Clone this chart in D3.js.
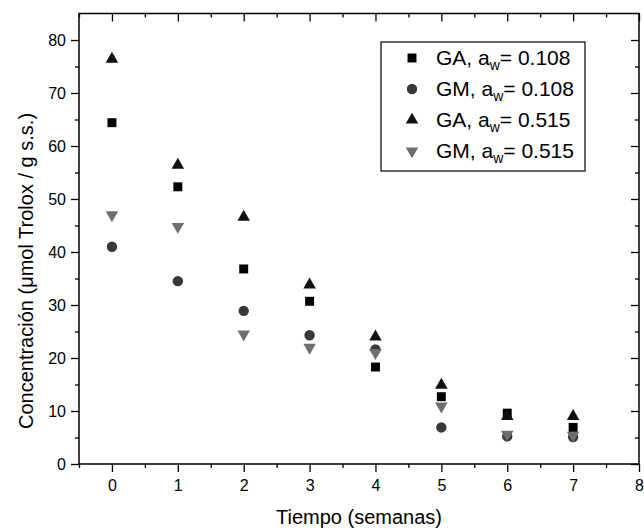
<!DOCTYPE html>
<meta charset="utf-8">
<script src="https://d3js.org/d3.v7.min.js"></script>
<style>
body { margin: 0; background: #fff; }
svg { font-family: "Liberation Sans", Arial, sans-serif; }
</style>
<div id="chart"></div>
<script>
// weeks
var semanas = [0, 1, 2, 3, 4, 5, 6, 7];
// series values (umol Trolox / g s.s.)
var gaLow = [64.4, 52.3, 36.8, 30.7, 18.3, 12.7, 9.6, 6.9];
var gmLow = [41.0, 34.5, 28.9, 24.3, 21.6, 6.9, 5.2, 5.1];
var gaHigh = [76.4, 56.4, 46.6, 33.8, 24.0, 14.9, 9.0, 9.0];
var gmHigh = [47.0, 44.8, 24.5, 22.0, 21.0, 10.9, 5.6, 5.4];
var seriesNames = ["GA", "GM", "GA", "GM"];
var seriesAw = ["0.108", "0.108", "0.515", "0.515"];
var xTicks = [0, 1, 2, 3, 4, 5, 6, 7, 8];
var yTicks = [0, 10, 20, 30, 40, 50, 60, 70, 80];

var W = 644, H = 531;
var pLeft = 79, pRight = 639, pTop = 13.5, pBottom = 464;

var svg = d3.select("#chart").append("svg")
  .attr("width", W).attr("height", H);

var x = d3.scaleLinear().domain([-0.5, 8]).range([pLeft, pRight]);
var y = d3.scaleLinear().domain([0, 85]).range([pBottom, pTop]);

var xMinor = [-0.5, 0.5, 1.5, 2.5, 3.5, 4.5, 5.5, 6.5, 7.5];
var yMinor = [5, 15, 25, 35, 45, 55, 65, 75];

// bottom axis (outward ticks)
svg.append("g").attr("transform", "translate(0," + pBottom + ")")
  .call(d3.axisBottom(x).tickValues(xTicks).tickSize(8).tickPadding(8).tickFormat(d3.format("d")));
svg.append("g").attr("transform", "translate(0," + pBottom + ")")
  .call(d3.axisBottom(x).tickValues(xMinor).tickSize(4).tickFormat(""));
// top axis (inward)
svg.append("g").attr("transform", "translate(0," + pTop + ")")
  .call(d3.axisBottom(x).tickValues(xTicks).tickSize(8).tickFormat(""));
svg.append("g").attr("transform", "translate(0," + pTop + ")")
  .call(d3.axisBottom(x).tickValues(xMinor).tickSize(4).tickFormat(""));
// left axis (outward)
svg.append("g").attr("transform", "translate(" + pLeft + ",0)")
  .call(d3.axisLeft(y).tickValues(yTicks).tickSize(8).tickPadding(5).tickFormat(d3.format("d")));
svg.append("g").attr("transform", "translate(" + pLeft + ",0)")
  .call(d3.axisLeft(y).tickValues(yMinor).tickSize(4).tickFormat(""));
// right axis (inward)
svg.append("g").attr("transform", "translate(" + pRight + ",0)")
  .call(d3.axisLeft(y).tickValues(yTicks).tickSize(8).tickFormat(""));
svg.append("g").attr("transform", "translate(" + pRight + ",0)")
  .call(d3.axisLeft(y).tickValues(yMinor).tickSize(4).tickFormat(""));

svg.selectAll(".domain").remove();
svg.selectAll(".tick line").attr("stroke", "#000").attr("stroke-width", 1.3);
svg.selectAll(".tick text").attr("font-size", "16px").attr("fill", "#000")
  .style("font-family", "'Liberation Sans', Arial, sans-serif");

svg.append("rect")
  .attr("x", pLeft).attr("y", pTop)
  .attr("width", pRight - pLeft).attr("height", pBottom - pTop)
  .attr("fill", "none").attr("stroke", "#000").attr("stroke-width", 1.5);

// axis titles
svg.append("text")
  .attr("x", (pLeft + pRight) / 2).attr("y", 524)
  .attr("text-anchor", "middle").attr("font-size", "20px")
  .text("Tiempo (semanas)");
svg.append("text")
  .attr("transform", "translate(33,271) rotate(-90)")
  .attr("text-anchor", "middle").attr("font-size", "20px")
  .text("Concentración (μmol Trolox / g s.s.)");

// markers
var series = [
  { vals: gaLow, shape: d3.symbolSquare, size: 80, color: "#000000", rot: 0 },
  { vals: gmLow, shape: d3.symbolCircle, size: 85, color: "#383838", rot: 0 },
  { vals: gaHigh, shape: d3.symbolTriangle, size: 68, color: "#111111", rot: 0 },
  { vals: gmHigh, shape: d3.symbolTriangle, size: 68, color: "#6e6e6e", rot: 180 }
];

series.forEach(function(s) {
  var sym = d3.symbol().type(s.shape).size(s.size);
  svg.append("g").selectAll("path")
    .data(semanas)
    .enter().append("path")
    .attr("d", sym)
    .attr("fill", s.color)
    .attr("transform", function(d, i) {
      return "translate(" + x(d) + "," + y(s.vals[i]) + ") rotate(" + s.rot + ")";
    });
});

// legend
var lg = svg.append("g");
lg.append("rect")
  .attr("x", 381).attr("y", 42).attr("width", 204).attr("height", 129)
  .attr("fill", "#fff").attr("stroke", "#000").attr("stroke-width", 1.2);
var rowY = [58, 89, 120, 151];
series.forEach(function(s, i) {
  var sym = d3.symbol().type(s.shape).size(s.size);
  lg.append("path").attr("d", sym).attr("fill", s.color)
    .attr("transform", "translate(412," + rowY[i] + ") rotate(" + s.rot + ")");
  var t = lg.append("text").attr("x", 436).attr("y", rowY[i] + 7).attr("font-size", "21px");
  t.append("tspan").text(seriesNames[i] + ", a");
  t.append("tspan").attr("font-size", "14px").attr("dy", 5).text("w");
  t.append("tspan").attr("dy", -5).text("= " + seriesAw[i]);
});
</script>
